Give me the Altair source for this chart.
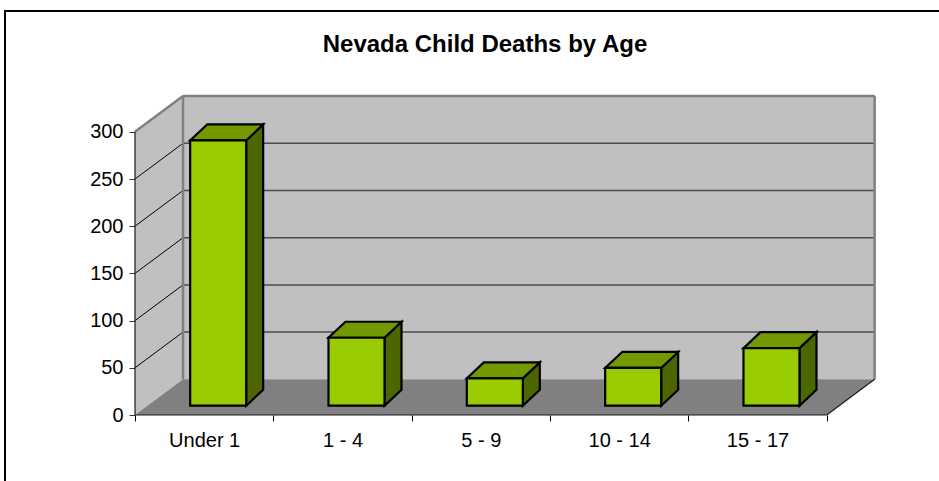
import altair as alt
import pandas as pd

# ---- data -------------------------------------------------------------
categories = ["Under 1", "1 - 4", "5 - 9", "10 - 14", "15 - 17"]
deaths = [281, 72, 29, 40, 61]
y_ticks = [0, 50, 100, 150, 200, 250, 300]

# ---- layout of the pseudo-3D box (scale units) -----------------------
W, H = 754, 326                 # plot area in pixels
PX_X = 138.33                   # pixels per category slot
PX_Y = 0.944                    # pixels per death
X_MAX = W / PX_X
Y_MAX = H / PX_Y
N = len(categories)
TOP = y_ticks[-1]

WALL_DX = 48 / PX_X             # depth of the box, horizontal part
WALL_DY = 35.7 / PX_Y           # depth of the box, vertical part
BAR_HALF = 28 / PX_X            # half width of a column
BAR_SHIFT = 14 / PX_X           # columns stand in the middle of the floor
BAR_BASE = 9.3 / PX_Y
BAR_DX = 17 / PX_X              # column depth
BAR_DY = 16 / PX_Y

FONT = "Liberation Sans"
FRONT, TOPC, SIDE = "#99CC00", "#739900", "#4C6600"

xs = alt.Scale(domain=[0, X_MAX], nice=False, zero=False)
ys = alt.Scale(domain=[0, Y_MAX], nice=False, zero=False)

label_list = "[" + ",".join("'" + c + "'" for c in categories) + "]"
x_axis = alt.Axis(
    values=[k * 0.5 for k in range(2 * N + 1)],
    labelExpr="datum.value % 1 === 0 ? '' : " + label_list + "[floor(datum.value)]",
    tickOpacity={"condition": {"test": "datum.value % 1 === 0", "value": 1}, "value": 0},
    tickSize=6, tickColor="#000000", tickWidth=1,
    domain=False, grid=False, title=None,
    labelFont=FONT, labelFontSize=20, labelColor="#000000",
    labelPadding=9, labelOverlap=False, labelFlush=False,
)
y_axis = alt.Axis(
    values=y_ticks, tickSize=6, tickColor="#333333", tickWidth=1,
    domain=False, grid=False, title=None,
    labelFont=FONT, labelFontSize=20, labelColor="#000000", labelPadding=6,
)


def X(f):
    return alt.X(f, type="quantitative", scale=xs, axis=x_axis)


def Y(f):
    return alt.Y(f, type="quantitative", scale=ys, axis=y_axis)


# ---- walls and floor ---------------------------------------------------
side_wall = pd.DataFrame({"x": [0, WALL_DX], "y": [0, WALL_DY], "y2": [TOP, TOP + WALL_DY]})
back_wall = pd.DataFrame({"x": [WALL_DX], "x2": [N + WALL_DX], "y": [WALL_DY], "y2": [TOP + WALL_DY]})
floor = pd.DataFrame({"y": [0, WALL_DY], "x": [0, WALL_DX], "x2": [N, N + WALL_DX]})

grid_vals = y_ticks[1:]
back_grid = pd.DataFrame({"x": [WALL_DX] * len(grid_vals), "x2": [N + WALL_DX] * len(grid_vals),
                          "y": [v + WALL_DY for v in grid_vals]})
side_grid = pd.DataFrame({"x": [0] * len(grid_vals), "x2": [WALL_DX] * len(grid_vals),
                          "y": grid_vals, "y2": [v + WALL_DY for v in grid_vals]})

gray_edges = pd.DataFrame({
    "x": [0, WALL_DX, WALL_DX, N + WALL_DX],
    "x2": [WALL_DX, WALL_DX, N + WALL_DX, N + WALL_DX],
    "y": [TOP, WALL_DY, TOP + WALL_DY, WALL_DY],
    "y2": [TOP + WALL_DY, TOP + WALL_DY, TOP + WALL_DY, TOP + WALL_DY],
})
dark_edges = pd.DataFrame({
    "x": [N, 0, 0], "x2": [N + WALL_DX, N, 0],
    "y": [0, 0, 0], "y2": [WALL_DY, 0, TOP],
})

# ---- columns -----------------------------------------------------------
front_rows, top_rows, side_rows = [], [], []
for i, (cat, v) in enumerate(zip(categories, deaths)):
    xl = i + 0.5 + BAR_SHIFT - BAR_HALF
    xr = i + 0.5 + BAR_SHIFT + BAR_HALF
    front_rows.append({"cat": cat, "x": xl, "x2": xr, "y": BAR_BASE, "y2": BAR_BASE + v})
    top_rows += [
        {"cat": cat, "y": BAR_BASE + v, "x": xl, "x2": xr},
        {"cat": cat, "y": BAR_BASE + v + BAR_DY, "x": xl + BAR_DX, "x2": xr + BAR_DX},
    ]
    side_rows += [
        {"cat": cat, "x": xr, "y": BAR_BASE, "y2": BAR_BASE + v},
        {"cat": cat, "x": xr + BAR_DX, "y": BAR_BASE + BAR_DY, "y2": BAR_BASE + v + BAR_DY},
    ]
front_df = pd.DataFrame(front_rows)
top_df = pd.DataFrame(top_rows)
side_df = pd.DataFrame(side_rows)

# ---- layers ------------------------------------------------------------
frame = alt.Chart(pd.DataFrame({"k": [0]})).mark_rect(
    fill="transparent", stroke="#000000", strokeWidth=2
).encode(x=alt.value(-130), x2=alt.value(W + 120), y=alt.value(-78), y2=alt.value(H + 120))

side_layer = alt.Chart(side_wall).mark_area(color="#C0C0C0").encode(
    x=X("x"), y=Y("y"), y2="y2")
back_layer = alt.Chart(back_wall).mark_rect(color="#C0C0C0").encode(
    x=X("x"), x2="x2", y=Y("y"), y2="y2")
floor_layer = alt.Chart(floor).mark_area(color="#808080", orient="horizontal").encode(
    y=Y("y"), x=X("x"), x2="x2")
back_grid_layer = alt.Chart(back_grid).mark_rule(color="#4D4D4D", strokeWidth=1.5).encode(
    x=X("x"), x2="x2", y=Y("y"))
side_grid_layer = alt.Chart(side_grid).mark_rule(color="#000000", strokeWidth=1).encode(
    x=X("x"), x2="x2", y=Y("y"), y2="y2")
gray_layer = alt.Chart(gray_edges).mark_rule(color="#808080", strokeWidth=2.5).encode(
    x=X("x"), x2="x2", y=Y("y"), y2="y2")
dark_layer = alt.Chart(dark_edges).mark_rule(color="#1A1A1A", strokeWidth=1.2).encode(
    x=X("x"), x2="x2", y=Y("y"), y2="y2")

front_layer = alt.Chart(front_df).mark_rect(
    color=FRONT, stroke="#000000", strokeWidth=2.2, strokeJoin="miter").encode(
    x=X("x"), x2="x2", y=Y("y"), y2="y2")
top_layer = alt.Chart(top_df).mark_area(
    color=TOPC, stroke="#000000", strokeWidth=2.2, strokeJoin="miter", orient="horizontal").encode(
    y=Y("y"), x=X("x"), x2="x2", detail="cat:N")
side_bar_layer = alt.Chart(side_df).mark_area(
    color=SIDE, stroke="#000000", strokeWidth=2.2, strokeJoin="miter").encode(
    x=X("x"), y=Y("y"), y2="y2", detail="cat:N")

chart = alt.layer(
    frame, side_layer, back_layer, floor_layer, back_grid_layer, side_grid_layer,
    gray_layer, dark_layer, side_bar_layer, top_layer, front_layer,
).properties(
    width=W, height=H,
    background="#FFFFFF",
    autosize=alt.AutoSizeParams(type="none"),
    padding={"left": 135, "top": 89, "right": 939 - 135 - W, "bottom": 481 - 89 - H},
    title=alt.TitleParams(
        "Nevada Child Deaths by Age", font=FONT, fontSize=24, fontWeight="bold",
        color="#000000", anchor="middle", dx=-27, offset=-59, baseline="middle",
    ),
).configure_view(stroke="transparent", strokeWidth=0)

chart.save("out.html", embed_options={"renderer": "svg", "actions": False})
